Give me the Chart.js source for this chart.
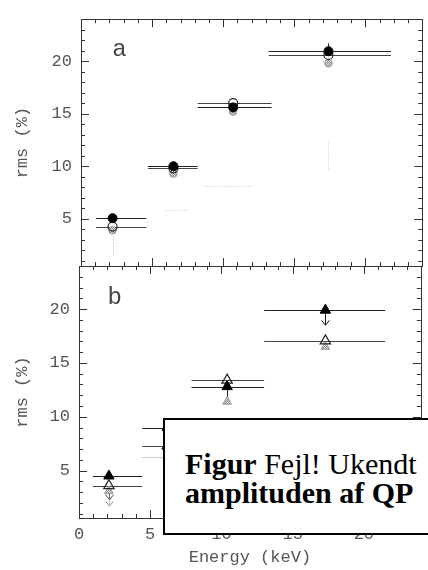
<!DOCTYPE html>
<html>
<head>
<meta charset="utf-8">
<script src="https://cdn.jsdelivr.net/npm/chart.js@4.4.1/dist/chart.umd.min.js"></script>
<style>
  html, body { margin: 0; padding: 0; background: #fff; }
  #wrap { position: relative; width: 428px; height: 570px; overflow: hidden; background: #fff; }
  #wrap canvas { position: absolute; left: 0; top: 0; }
  #caption {
    position: absolute; left: 163px; top: 418px; width: 400px; height: 117px;
    box-sizing: border-box;
    border: 2px solid #000; background: #fff; color: #000;
    font-family: "Liberation Serif", "Times New Roman", serif;
    font-size: 30px; line-height: 29px; white-space: nowrap;
    padding: 29px 0 0 20px;
  }
  #caption b { font-weight: bold; }
</style>
</head>
<body>
<div id="wrap">
  <canvas id="panelA" width="428" height="570"></canvas>
  <canvas id="panelB" width="428" height="570"></canvas>
  <div id="caption"><b>Figur</b> Fejl! Ukendt<br><b>amplituden af QP</b></div>
</div>
<script>
// Axis labels
const xTickLabels = [0, 5, 10, 15, 20];
const yTickLabels = [5, 10, 15, 20];

// Panel a: circles (energy bin centres and edges in keV, rms in %)
const energyA      = [2.22, 6.5, 10.7, 17.4];
const binLoA       = [1.05, 4.7, 8.2, 13.2];
const binHiA       = [4.6, 8.2, 13.4, 21.8];
const rmsFilledA   = [5.05, 10.0, 15.6, 20.95];
const rmsFilledAHi = [null, null, null, 21.7];
const rmsOpenA     = [4.25, 9.8, 16.0, 20.6];
const rmsGreyA     = [3.9, 9.3, 15.2, 19.8];
const rmsGreyALo   = [1.3, null, null, null];
const energyFaintA = [6.5, 10.7, 17.4];
const binLoFaintA  = [6.0, 8.6, null];
const binHiFaintA  = [7.6, 12.2, null];
const rmsFaintA    = [5.8, 8.1, 11.0];
const rmsFaintALo  = [null, null, 9.5];
const rmsFaintAHi  = [null, null, 12.4];

// Panel b: triangles
const energyB      = [2.1, 6.2, 10.4, 17.3];
const binLoB       = [0.97, 4.45, 7.9, 13.0];
const binHiB       = [4.45, 7.9, 13.0, 21.5];
const rmsFilledB   = [4.5, 9.0, 12.8, 19.9];
const rmsFilledBLo = [null, null, 11.7, 18.5];
const arrowFilledB = [false, false, false, true];
const rmsOpenB     = [3.6, 7.3, 13.4, 17.05];
const rmsOpenBLo   = [2.3, null, null, null];
const arrowOpenB   = [true, false, false, false];
const rmsGreyB     = [3.1, 6.3, 11.4, 16.5];
const rmsGreyBLo   = [1.7, null, null, null];
const arrowGreyB   = [true, false, false, false];
const binLoGreyB   = [null, 4.45, null, null];
const binHiGreyB   = [null, 7.9, null, null];

Chart.defaults.font.family = '"Liberation Mono", "DejaVu Sans Mono", monospace';
Chart.defaults.font.size = 17;
Chart.defaults.color = '#555';

function pts(xs, ys, o = {}) {
  return xs.map((x, i) => ({
    x, y: ys[i],
    xMin: o.lo ? o.lo[i] : null, xMax: o.hi ? o.hi[i] : null,
    yMin: o.yLo ? o.yLo[i] : null, yMax: o.yHi ? o.yHi[i] : null,
    arrow: o.arrow ? o.arrow[i] : false
  }));
}

// stippled fill for the grey markers
function stipple() {
  const c = document.createElement('canvas');
  c.width = 2; c.height = 2;
  const g = c.getContext('2d');
  g.fillStyle = '#e2e2e2'; g.fillRect(0, 0, 2, 2);
  g.fillStyle = '#8a8a8a'; g.fillRect(0, 0, 1, 1); g.fillRect(1, 1, 1, 1);
  return g.createPattern(c, 'repeat');
}
const greyFill = stipple();

// error bars drawn under the markers, through the chart scales
const errorBars = {
  id: 'errorBars',
  beforeDatasetsDraw(chart) {
    const { ctx, scales: { x, y } } = chart;
    chart.data.datasets.forEach((ds, i) => {
      if (!chart.isDatasetVisible(i)) return;
      ctx.save();
      ctx.strokeStyle = ds.errColor || '#222';
      ctx.lineWidth = 1;
      ctx.setLineDash(ds.errDash || []);
      ds.data.forEach(p => {
        const px = Math.round(x.getPixelForValue(p.x)) + 0.5;
        const py = Math.round(y.getPixelForValue(p.y)) + 0.5;
        ctx.beginPath();
        if (p.xMin != null && p.xMax != null) {
          ctx.moveTo(x.getPixelForValue(p.xMin), py);
          ctx.lineTo(x.getPixelForValue(p.xMax), py);
        }
        if (p.yMin != null) {
          ctx.moveTo(px, py);
          ctx.lineTo(px, y.getPixelForValue(p.yMin));
        }
        if (p.yMax != null) {
          ctx.moveTo(px, py);
          ctx.lineTo(px, y.getPixelForValue(p.yMax));
        }
        ctx.stroke();
        if (p.arrow && p.yMin != null) {
          const ay = y.getPixelForValue(p.yMin);
          ctx.setLineDash([]);
          ctx.beginPath();
          ctx.moveTo(px - 4, ay - 5); ctx.lineTo(px, ay); ctx.lineTo(px + 4, ay - 5);
          ctx.stroke();
          ctx.setLineDash(ds.errDash || []);
        }
      });
      ctx.restore();
    });
  }
};

// box frame with inward major/minor ticks on all four sides, plus the panel letter
const frameTicks = {
  id: 'frameTicks',
  afterDraw(chart, args, opts) {
    const { ctx, chartArea: a, scales: { x, y } } = chart;
    ctx.save();
    ctx.strokeStyle = '#333';
    ctx.lineWidth = 1;
    ctx.strokeRect(Math.round(a.left) + 0.5, Math.round(a.top) + 0.5,
                   Math.round(a.right - a.left), Math.round(a.bottom - a.top));
    ctx.beginPath();
    for (let v = Math.ceil(x.min); v <= x.max; v++) {
      const px = Math.round(x.getPixelForValue(v)) + 0.5;
      const len = v % 5 === 0 ? 8 : 4;
      ctx.moveTo(px, a.top); ctx.lineTo(px, a.top + len);
      ctx.moveTo(px, a.bottom); ctx.lineTo(px, a.bottom - len);
    }
    for (let v = Math.ceil(y.min); v <= y.max; v++) {
      const py = Math.round(y.getPixelForValue(v)) + 0.5;
      const len = v % 5 === 0 ? 8 : 4;
      ctx.moveTo(a.left, py); ctx.lineTo(a.left + len, py);
      ctx.moveTo(a.right, py); ctx.lineTo(a.right - len, py);
    }
    ctx.stroke();
    if (opts.letter) {
      ctx.fillStyle = '#444';
      ctx.font = '24px "Liberation Mono", monospace';
      ctx.textAlign = 'center';
      ctx.textBaseline = 'middle';
      ctx.fillText(opts.letter, x.getPixelForValue(opts.lx), y.getPixelForValue(opts.ly));
    }
    ctx.restore();
  }
};

function yAxis(min, max, width, showTitle) {
  return {
    type: 'linear', min, max,
    afterFit: s => { s.width = width; },
    afterBuildTicks: s => { s.ticks = yTickLabels.map(v => ({ value: v })); },
    grid: { display: false, drawTicks: false },
    border: { display: false },
    ticks: { padding: 9, color: '#555' },
    title: { display: showTitle, text: 'rms (%)', color: '#555', padding: { top: 12, bottom: 0 } }
  };
}

const common = {
  responsive: false,
  animation: false,
  events: [],
  plugins: { legend: { display: false }, tooltip: { enabled: false } }
};

function circleSets(filled, open, grey, faint) {
  return [
    { data: filled, order: 0, pointStyle: 'circle', pointRadius: 4.5,
      pointBackgroundColor: '#000', pointBorderColor: '#000', pointBorderWidth: 1, showLine: false, errColor: '#222' },
    { data: open, order: 1, pointStyle: 'circle', pointRadius: 4.5,
      pointBackgroundColor: 'rgba(0,0,0,0)', pointBorderColor: '#222', pointBorderWidth: 1.2, showLine: false, errColor: '#444' },
    { data: grey, order: 2, pointStyle: 'circle', pointRadius: 3.8,
      pointBackgroundColor: greyFill, pointBorderColor: '#999', pointBorderWidth: 1, showLine: false,
      errColor: '#aaa', errDash: [1, 2] },
    { data: faint, order: 3, pointRadius: 0, showLine: false, errColor: '#c8c8c8', errDash: [1, 2] }
  ];
}

new Chart(document.getElementById('panelA'), {
  type: 'scatter',
  data: {
    datasets: circleSets(
      pts(energyA, rmsFilledA, { lo: binLoA, hi: binHiA, yHi: rmsFilledAHi }),
      pts(energyA, rmsOpenA, { lo: binLoA, hi: binHiA }),
      pts(energyA, rmsGreyA, { yLo: rmsGreyALo }),
      pts(energyFaintA, rmsFaintA, { lo: binLoFaintA, hi: binHiFaintA, yLo: rmsFaintALo, yHi: rmsFaintAHi })
    )
  },
  options: {
    ...common,
    layout: { padding: { top: 14, right: 4, bottom: 304, left: 0 } },
    scales: {
      x: { type: 'linear', min: 0, max: 24, display: false },
      y: yAxis(0.5, 24, 81, true)
    },
    plugins: { ...common.plugins, frameTicks: { letter: 'a', lx: 2.7, ly: 21.1 } }
  },
  plugins: [errorBars, frameTicks]
});

new Chart(document.getElementById('panelB'), {
  type: 'scatter',
  data: {
    datasets: [
      { data: pts(energyB, rmsFilledB, { lo: binLoB, hi: binHiB, yLo: rmsFilledBLo, arrow: arrowFilledB }),
        order: 0, pointStyle: 'triangle', pointRadius: 6,
        pointBackgroundColor: '#000', pointBorderColor: '#000', pointBorderWidth: 1, errColor: '#222' },
      { data: pts(energyB, rmsOpenB, { lo: binLoB, hi: binHiB, yLo: rmsOpenBLo, arrow: arrowOpenB }),
        order: 1, pointStyle: 'triangle', pointRadius: 6,
        pointBackgroundColor: 'rgba(0,0,0,0)', pointBorderColor: '#222', pointBorderWidth: 1.2, errColor: '#444' },
      { data: pts(energyB, rmsGreyB, { lo: binLoGreyB, hi: binHiGreyB, yLo: rmsGreyBLo, arrow: arrowGreyB }),
        order: 2, pointStyle: 'triangle', pointRadius: 5,
        pointBackgroundColor: greyFill, pointBorderColor: '#999', pointBorderWidth: 1,
        errColor: '#999', errDash: [1, 1] }
    ]
  },
  options: {
    ...common,
    layout: { padding: { top: 266, right: 4, bottom: 0, left: 0 } },
    scales: {
      x: {
        type: 'linear', min: 0, max: 24,
        afterFit: s => { s.height = 52; },
        afterBuildTicks: s => { s.ticks = xTickLabels.map(v => ({ value: v })); },
        grid: { display: false, drawTicks: false },
        border: { display: false },
        ticks: { padding: 6, color: '#555', maxRotation: 0 },
        title: { display: true, text: 'Energy (keV)', color: '#555', padding: { top: 0, bottom: 2 } }
      },
      y: yAxis(0.6, 24, 79, true)
    },
    plugins: { ...common.plugins, frameTicks: { letter: 'b', lx: 2.5, ly: 21.1 } }
  },
  plugins: [errorBars, frameTicks]
});
</script>
</body>
</html>
